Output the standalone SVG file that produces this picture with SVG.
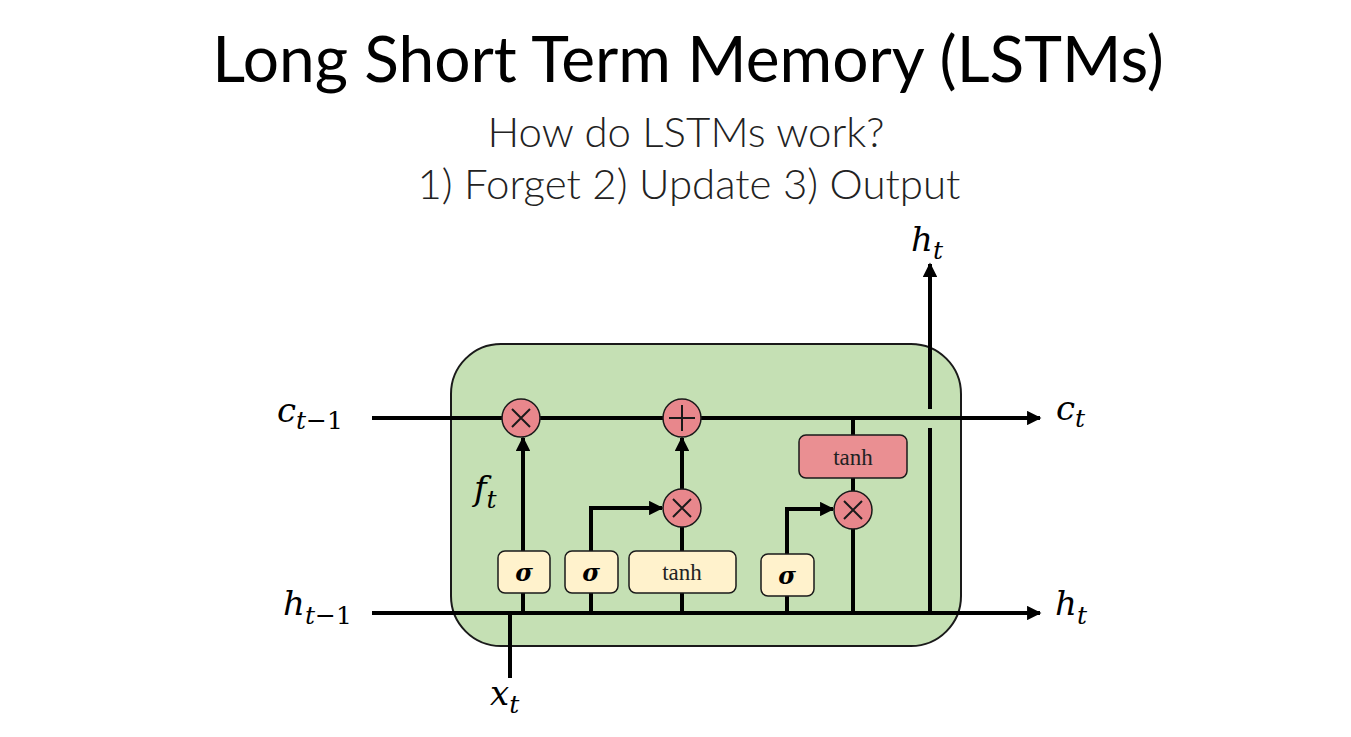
<svg xmlns="http://www.w3.org/2000/svg" width="1351" height="737" viewBox="0 0 1351 737">
<defs>
<style>
.title{font-family:"Lato","Open Sans","Liberation Sans",sans-serif;fill:#000}
.sub{font-family:"Lato","Open Sans","Liberation Sans",sans-serif;font-weight:300;fill:#222}
.math{font-family:"DejaVu Serif","Liberation Serif",serif;font-style:italic;fill:#000}
.up{font-style:normal}
.ln{stroke:#000;stroke-width:4;fill:none}
.gate{fill:#fff2cc;stroke:#1a1a1a;stroke-width:1.5}
.red{fill:#ea8f92;stroke:#1a1a1a;stroke-width:1.5}
.op{fill:#e8878c;stroke:#1a1a1a;stroke-width:1.5}
.sym{stroke:#1a1a1a;stroke-width:2;fill:none}
.sig{font-family:"DejaVu Serif","Liberation Serif",serif;font-style:italic;font-weight:bold;font-size:24px;fill:#000}
.tanh{font-family:"Liberation Serif","DejaVu Serif",serif;font-size:23px;fill:#222}
</style>
<marker id="ah" viewBox="0 0 10 10" refX="9" refY="5" markerWidth="4" markerHeight="3.6" markerUnits="strokeWidth" orient="auto">
<path d="M0,0 L10,5 L0,10 z" fill="#000"/>
</marker>
</defs>
<rect width="1351" height="737" fill="#fff"/>
<text class="title" x="688" y="82" font-size="64" text-anchor="middle">Long Short Term Memory (LSTMs)</text>
<text class="sub" x="686" y="147" font-size="42" text-anchor="middle">How do LSTMs work?</text>
<text class="sub" x="689" y="199" font-size="42" text-anchor="middle">1) Forget 2) Update 3) Output</text>

<g id="cell"><rect x="451" y="344" width="510" height="302" rx="50" ry="50" fill="#c5e0b4" stroke="#1a1a1a" stroke-width="2"/></g>

<g id="connectors">
<path class="ln" d="M372,418 H1040" marker-end="url(#ah)"/>
<path class="ln" d="M372,613 H1040" marker-end="url(#ah)"/>
<path class="ln" d="M510,613 V678"/>
<path class="ln" d="M523,551 V438" marker-end="url(#ah)"/>
<path class="ln" d="M591,551 V508 H662" marker-end="url(#ah)"/>
<path class="ln" d="M591,593 V613"/>
<path class="ln" d="M523,593 V613"/>
<path class="ln" d="M682,593 V613"/>
<path class="ln" d="M682,551 V527"/>
<path class="ln" d="M682,489 V438" marker-end="url(#ah)"/>
<path class="ln" d="M787,613 V595"/>
<path class="ln" d="M787,555 V509 H833" marker-end="url(#ah)"/>
<path class="ln" d="M853,418 V435"/>
<path class="ln" d="M853,478 V491"/>
<path class="ln" d="M853,528 V613 H930"/>
<path class="ln" d="M930,613 V428"/>
<path class="ln" d="M930,409 V264" marker-end="url(#ah)"/>
</g>

<g id="forget-mul"><circle class="op" cx="521" cy="418" r="19"/><path class="sym" d="M512,409 L530,427 M530,409 L512,427"/></g>
<g id="add"><circle class="op" cx="682" cy="418" r="19"/><path class="sym" d="M682,405 V431 M669,418 H695"/></g>
<g id="input-mul"><circle class="op" cx="682" cy="508" r="19"/><path class="sym" d="M673,499 L691,517 M691,499 L673,517"/></g>
<g id="output-mul"><circle class="op" cx="853" cy="510" r="19"/><path class="sym" d="M844,501 L862,519 M862,501 L844,519"/></g>

<g id="sigma-forget"><rect class="gate" x="498" y="551" width="52" height="42" rx="7"/><text class="sig" x="524" y="581" text-anchor="middle">σ</text></g>
<g id="sigma-input"><rect class="gate" x="565" y="551" width="53" height="42" rx="7"/><text class="sig" x="591" y="581" text-anchor="middle">σ</text></g>
<g id="tanh-input"><rect class="gate" x="629" y="551" width="107" height="42" rx="7"/><text class="tanh" x="682" y="580" text-anchor="middle">tanh</text></g>
<g id="sigma-output"><rect class="gate" x="761" y="554" width="53" height="42" rx="7"/><text class="sig" x="787" y="584" text-anchor="middle">σ</text></g>
<g id="tanh-output"><rect class="red" x="799" y="435" width="108" height="43" rx="7"/><text class="tanh" x="853" y="465" text-anchor="middle">tanh</text></g>

<g id="labels">
<text class="math" x="277" y="422" font-size="34">c<tspan font-size="25" dy="7">t−<tspan class="up">1</tspan></tspan></text>
<text class="math" x="283" y="615" font-size="34">h<tspan font-size="25" dy="9">t−<tspan class="up">1</tspan></tspan></text>
<text class="math" x="490" y="705" font-size="34">x<tspan font-size="25" dy="8">t</tspan></text>
<text class="math" x="474" y="500" font-size="34">f<tspan font-size="25" dy="8">t</tspan></text>
<text class="math" x="911" y="251" font-size="34">h<tspan font-size="25" dy="8">t</tspan></text>
<text class="math" x="1056" y="420" font-size="34">c<tspan font-size="25" dy="7">t</tspan></text>
<text class="math" x="1055" y="615" font-size="34">h<tspan font-size="25" dy="9">t</tspan></text>
</g>
</svg>
